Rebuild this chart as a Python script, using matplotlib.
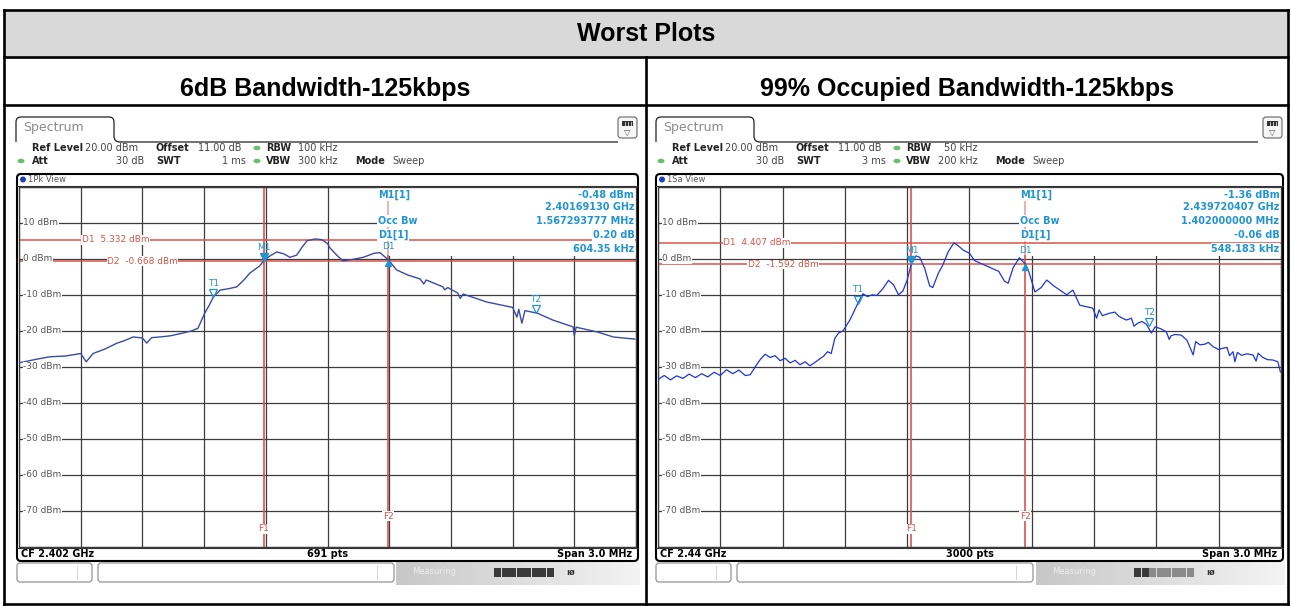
import numpy as np
import matplotlib.pyplot as plt
from matplotlib.patches import Rectangle, FancyBboxPatch, Ellipse, Circle, PathPatch
from matplotlib.path import Path
import matplotlib.transforms as mtransforms

W, H = 1291, 606

# ---- values ----
# x: kHz from the start of the 3 MHz span, y: level in dBm
left_khz = [0, 75, 150, 225, 300, 327, 360, 420, 477, 510, 555, 600, 621, 645,
            687, 735, 798, 840, 870, 903, 924, 945, 978, 1020, 1059, 1095, 1122,
            1170, 1191, 1215, 1254, 1290, 1317, 1350, 1380, 1401, 1440, 1473,
            1500, 1512, 1545, 1575, 1620, 1674, 1725, 1755, 1796, 1836, 1890,
            1950, 1968, 1980, 2061, 2070, 2085, 2133, 2145, 2160, 2274, 2400,
            2421, 2430, 2445, 2460, 2520, 2595, 2694, 2700, 2709, 2811, 2889, 2994]
left_dbm = [-28.9, -28.0, -27.2, -27.0, -26.3, -28.6, -26.3, -25.0, -23.4, -22.8,
            -21.7, -22.0, -23.4, -21.9, -21.7, -21.4, -20.6, -20.0, -19.3, -15.1,
            -13.0, -10.6, -8.7, -8.3, -7.8, -5.8, -4.0, -2.0, -0.5, 0.6, 1.9, 1.3,
            0.4, 1.0, 3.5, 5.0, 5.5, 5.3, 4.2, 3.0, 1.0, -0.6, -0.2, 0.4, 1.5, 1.7,
            -0.3, -3.1, -4.5, -5.6, -7.0, -5.9, -7.8, -8.6, -8.0, -9.5, -11.0, -9.8,
            -12.0, -13.5, -16.2, -14.0, -17.9, -14.4, -15.1, -17.0, -18.9, -21.4,
            -19.0, -20.3, -21.7, -22.3]

right_khz = [0, 30, 60, 90, 120, 150, 180, 210, 240, 270, 300, 330, 360, 390, 420,
             444, 468, 492, 516, 540, 564, 588, 612, 636, 660, 684, 708, 732, 750,
             774, 798, 816, 834, 852, 870, 891, 924, 945, 963, 987, 1008, 1032,
             1053, 1080, 1110, 1134, 1158, 1179, 1200, 1220, 1242, 1260, 1284,
             1308, 1323, 1350, 1371, 1398, 1425, 1446, 1470, 1500, 1524, 1551,
             1581, 1614, 1641, 1668, 1686, 1710, 1740, 1768, 1785, 1815, 1845,
             1872, 1905, 1935, 1968, 1998, 2016, 2031, 2070, 2094, 2112, 2124,
             2140, 2175, 2200, 2220, 2240, 2256, 2280, 2292, 2310, 2330, 2352, 2376,
             2394, 2420, 2448, 2462, 2470, 2490, 2520, 2547, 2577, 2589, 2610, 2634,
             2650, 2673, 2700, 2715, 2740, 2752, 2769, 2778, 2790, 2810, 2835, 2865,
             2880, 2890, 2910, 2935, 2961, 2985, 2997]
right_dbm = [-33.5, -32.4, -33.6, -32.5, -33.2, -32.0, -33.0, -31.9, -32.8, -31.5,
             -32.4, -30.8, -31.9, -30.9, -32.4, -32.2, -30.0, -28.0, -26.5, -27.4,
             -26.9, -28.3, -27.6, -28.9, -28.2, -29.4, -28.6, -29.7, -29.0, -28.0,
             -27.0, -25.8, -26.3, -22.0, -20.6, -20.0, -17.0, -14.5, -12.3, -9.7,
             -10.5, -10.0, -10.2, -8.5, -6.0, -7.2, -10.0, -9.0, -5.9, -1.4, 0.8,
             0.4, -2.6, -7.5, -8.0, -4.0, -1.8, 2.0, 4.4, 3.6, 2.4, 1.5, -0.5,
             -1.2, -2.0, -2.8, -3.5, -6.2, -6.8, -2.5, 0.3, -1.4, -3.5, -9.2, -8.0,
             -5.9, -7.5, -8.7, -10.0, -8.7, -11.0, -12.9, -13.4, -13.7, -16.5,
             -14.2, -15.8, -15.1, -14.8, -16.0, -16.6, -17.0, -16.5, -18.7, -17.9, -17.4,
             -18.2, -20.6, -18.9, -19.4, -20.3, -22.4, -21.4, -21.0, -21.2, -22.6, -26.7,
             -23.0, -23.9, -23.7, -23.2, -24.4, -25.2, -24.9, -24.6, -26.9, -25.8, -28.6,
             -26.0, -26.8, -26.4, -26.7, -28.4, -26.2, -27.3, -28.0, -28.1, -28.6, -31.4]

# markers: name -> (kHz from span start, dBm)
left_markers = {'M1': (1191.3, -0.48), 'D1': (1795.7, -0.28),
                'T1': (945, -10.6), 'T2': (2512, -15.0)}
right_markers = {'M1': (1220.4, -1.36), 'D1': (1768.6, -1.42),
                 'T1': (963, -12.3), 'T2': (2365, -18.5)}
left_dlines = [5.332, -0.668]
right_dlines = [4.407, -1.592]

left_info = [('M1[1]', '-0.48 dBm'), ('', '2.40169130 GHz'),
             ('Occ Bw', '1.567293777 MHz'), ('D1[1]', '0.20 dB'), ('', '604.35 kHz')]
right_info = [('M1[1]', '-1.36 dBm'), ('', '2.439720407 GHz'),
              ('Occ Bw', '1.402000000 MHz'), ('D1[1]', '-0.06 dB'), ('', '548.183 kHz')]

left_setup = {'rbw': '100 kHz', 'swt': '1 ms', 'vbw': '300 kHz', 'view': '1Pk View',
              'cf': 'CF 2.402 GHz', 'pts': '691 pts', 'busy': 8}
right_setup = {'rbw': '50 kHz', 'swt': '3 ms', 'vbw': '200 kHz', 'view': '1Sa View',
               'cf': 'CF 2.44 GHz', 'pts': '3000 pts', 'busy': 2}

subtitles = ['6dB Bandwidth-125kbps', '99% Occupied Bandwidth-125kbps']

RED = '#d9534a'
CYAN = '#2195d2'
GRID = '#3c3c3c'

plt.rcParams['font.family'] = 'DejaVu Sans'
fig = plt.figure(figsize=(W / 100, H / 100), dpi=100, facecolor='white')
bg = fig.add_axes([0, 0, 1, 1])
bg.set_xlim(0, W)
bg.set_ylim(H, 0)
bg.axis('off')


def px_axes(x0, y0, x1, y1):
    return fig.add_axes([x0 / W, 1 - y1 / H, (x1 - x0) / W, (y1 - y0) / H])


# table around the screenshots
bg.add_patch(Rectangle((4, 10), 1284, 47, facecolor='#d9d9d9', edgecolor='none'))
for y in (10, 57, 105, 604):
    bg.plot([4, 1288], [y, y], color='black', lw=1.9, solid_capstyle='projecting')
for x in (4, 1288):
    bg.plot([x, x], [10, 604], color='black', lw=1.9, solid_capstyle='projecting')
bg.plot([646, 646], [57, 604], color='black', lw=1.9)
tfont = dict(family='Liberation Sans', weight='bold', size=18)
bg.text(646, 41, 'Worst Plots', ha='center', va='baseline', **tfont)
bg.text(325, 96, subtitles[0], ha='center', va='baseline', **tfont)
bg.text(967, 96, subtitles[1], ha='center', va='baseline', **tfont)


def chrome(dx, setup, fr0, fr1):
    # tab
    verts = [(16 + dx, 142), (16 + dx, 122), (16 + dx, 117), (21 + dx, 117),
             (109 + dx, 117), (114 + dx, 117), (114 + dx, 122), (114 + dx, 136),
             (114 + dx, 142), (120 + dx, 142), (618 + dx, 142)]
    codes = [Path.MOVETO, Path.LINETO, Path.CURVE3, Path.CURVE3, Path.LINETO,
             Path.CURVE3, Path.CURVE3, Path.LINETO, Path.CURVE3, Path.CURVE3,
             Path.LINETO]
    bg.add_patch(PathPatch(Path(verts, codes), facecolor='none', edgecolor='#222', lw=0.9))
    bg.text(23 + dx, 128, 'Spectrum', fontsize=9, color='#8c8c8c', va='center')
    # menu icon
    bg.add_patch(FancyBboxPatch((fr1 - 20, 117), 19, 21, boxstyle='round,pad=0,rounding_size=3',
                                facecolor='#f6f6f6', edgecolor='#666', lw=0.8))
    bg.add_patch(Rectangle((fr1 - 16, 121), 11, 5, facecolor='#333', edgecolor='none'))
    for k in range(3):
        bg.plot([fr1 - 13 + 3 * k] * 2, [121.5, 125.5], color='white', lw=0.5)
    bg.text(fr1 - 10.5, 132, '\u25bd', fontsize=6, color='#555', ha='center', va='center')

    def put(x, y, s, bold=False, ha='left'):
        bg.text(x + dx, y, s, fontsize=7, ha=ha, va='center',
                weight='bold' if bold else 'normal', color='#222' if bold else '#444')

    def dot(x, y):
        bg.add_patch(Ellipse((x + dx, y), 7, 4.5, facecolor='#6abf69', edgecolor='none'))

    put(32, 148, 'Ref Level', True)
    put(85, 148, '20.00 dBm')
    put(156, 148, 'Offset', True)
    put(198, 148, '11.00 dB')
    dot(257, 148)
    put(266, 148, 'RBW', True)
    put(338, 148, setup['rbw'], ha='right')
    dot(21, 161)
    put(32, 161, 'Att', True)
    put(144, 161, '30 dB', ha='right')
    put(156, 161, 'SWT', True)
    put(246, 161, setup['swt'], ha='right')
    dot(257, 161)
    put(266, 161, 'VBW', True)
    put(338, 161, setup['vbw'], ha='right')
    put(355, 161, 'Mode', True)
    put(392, 161, 'Sweep')

    # window frame
    bg.add_patch(FancyBboxPatch((fr0, 174), fr1 - fr0, 387, boxstyle='round,pad=0,rounding_size=4',
                                facecolor='white', edgecolor='black', lw=1.5))
    bg.add_patch(Circle((fr0 + 6, 179.5), 3, facecolor='#1f3fbf', edgecolor='none'))
    bg.text(fr0 + 11, 179.5, setup['view'], fontsize=6, color='#555', va='center')
    bg.plot([fr0, fr1], [185.5, 185.5], color='#333', lw=0.8)
    bg.plot([fr0, fr1], [548, 548], color='#333', lw=0.8)
    bg.text(fr0 + 4, 554, setup['cf'], fontsize=7, weight='bold', va='center')
    bg.text((fr0 + fr1) / 2, 554, setup['pts'], fontsize=7, weight='bold', va='center', ha='center')
    bg.text(fr1 - 6, 554, 'Span 3.0 MHz', fontsize=7, weight='bold', va='center', ha='right')

    # status bar
    grad = np.linspace(0.78, 0.95, 64).reshape(1, -1)
    bg.imshow(grad, cmap='gray', vmin=0, vmax=1, aspect='auto',
              extent=(396 + dx, fr1 + 2, 585, 562), zorder=0.5)
    bg.add_patch(FancyBboxPatch((fr0, 563), 75, 19, boxstyle='round,pad=0,rounding_size=3',
                                facecolor='white', edgecolor='#888', lw=0.8))
    bg.add_patch(FancyBboxPatch((fr0 + 81, 563), 296, 19, boxstyle='round,pad=0,rounding_size=3',
                                facecolor='white', edgecolor='#888', lw=0.8))
    bg.plot([fr0 + 60] * 2, [566, 579], color='#ccc', lw=0.6)
    bg.plot([fr0 + 360] * 2, [566, 579], color='#ccc', lw=0.6)
    bg.text(412 + dx, 572, 'Measuring', fontsize=6, color='#ededed', va='center')
    for k in range(8):
        bg.add_patch(Rectangle((494 + dx + 7.5 * k, 568), 7, 9, edgecolor='none',
                               facecolor='#3a3a3a' if k < setup['busy'] else '#8a8a8a'))
    bg.text(566 + dx, 572.5, 'ıø', fontsize=6, weight='bold', color='#333', va='center')


def spectrum(gx0, gx1, khz, dbm, markers, dlines, info, dlabel_x, trace_color, trace_lw):
    ax = px_axes(gx0, 186.7, gx1, 547)
    ax.set_xlim(0, 3000)
    ax.set_ylim(-80, 20)
    ax.set_xticks(np.arange(0, 3001, 300))
    ax.set_yticks(np.arange(-80, 21, 10))
    ax.tick_params(length=0, labelbottom=False, labelleft=False)
    ax.set_axisbelow(True)
    ax.grid(color=GRID, lw=0.9)
    for s in ax.spines.values():
        s.set_color(GRID)
        s.set_linewidth(0.9)

    # marker table area hides the grid
    ax.add_patch(Rectangle((1740, 0.75), 1300, 20, facecolor='white', edgecolor='none', zorder=1))

    for v in range(10, -71, -10):
        ax.text(0.007, v, f'{v} dBm', transform=ax.get_yaxis_transform(), fontsize=6.5,
                color='#555', va='center', ha='left', zorder=5,
                bbox=dict(facecolor='white', edgecolor='none', pad=0.5))

    # display lines
    for i, (lvl, lx) in enumerate(zip(dlines, dlabel_x)):
        ax.axhline(lvl, color=RED, lw=1.1, zorder=2)
        ax.text(lx, lvl, f'D{i + 1}  {lvl:.3f} dBm', fontsize=6.5, color=RED, va='center',
                zorder=5, bbox=dict(facecolor='white', edgecolor='none', pad=0.3))

    # frequency lines
    f1 = markers['M1'][0]
    f2 = markers['D1'][0]
    ax.plot([f1, f1], [-80, 20], color=RED, lw=1.2, zorder=2)
    ax.plot([f2, f2], [-80, 0.75], color=RED, lw=1.2, zorder=2)
    ax.plot([f2, f2], [0.75, 17], color='#eba49c', lw=1.2, zorder=1.5)
    ax.text(f1, -75, 'F1', fontsize=6.5, color=RED, ha='center', va='center', zorder=5,
            bbox=dict(facecolor='white', edgecolor='none', pad=0.3))
    ax.text(f2, -71.4, 'F2', fontsize=6.5, color=RED, ha='center', va='center', zorder=5,
            bbox=dict(facecolor='white', edgecolor='none', pad=0.3))

    ax.plot(khz, dbm, color=trace_color, lw=trace_lw, zorder=3)

    up = mtransforms.offset_copy(ax.transData, fig=fig, x=0, y=3.5, units='dots')
    down = mtransforms.offset_copy(ax.transData, fig=fig, x=0, y=-3.5, units='dots')
    for name, (x, y) in markers.items():
        if name == 'M1':
            ax.plot(x, y, marker='v', ms=5.5, color=CYAN, transform=up, zorder=4)
        elif name == 'D1':
            ax.plot(x, y, marker='^', ms=5, color=CYAN, transform=down, zorder=4)
        else:
            ax.plot(x, y, marker='v', ms=5.5, mfc='none', mec=CYAN, mew=0.9,
                    transform=up, zorder=4)
        ax.annotate(name, (x, y), xytext=(0, 9.5), textcoords='offset points', fontsize=6.5,
                    color=CYAN, ha='center', va='center', zorder=5)

    rows = [17.7, 14.4, 10.5, 6.6, 2.7]
    for (lab, val), y in zip(info, rows):
        if lab:
            ax.text(1745, y, lab, fontsize=7, weight='bold', color=CYAN, va='center', zorder=5,
                    bbox=dict(facecolor='white', edgecolor='none', pad=0.4))
        ax.text(2992, y, val, fontsize=7, weight='bold', color=CYAN, va='center', ha='right',
                zorder=5, bbox=dict(facecolor='white', edgecolor='none', pad=0.4))
    return ax


chrome(0, left_setup, 17, 638)
chrome(640, right_setup, 656, 1283)
spectrum(19, 636, left_khz, left_dbm, left_markers, left_dlines, left_info,
         [306, 428], '#3a4aa8', 1.0)
spectrum(658, 1281, right_khz, right_dbm, right_markers, right_dlines, right_info,
         [313, 433], '#1f35d8', 0.9)

fig.savefig('out.png', dpi=100)
